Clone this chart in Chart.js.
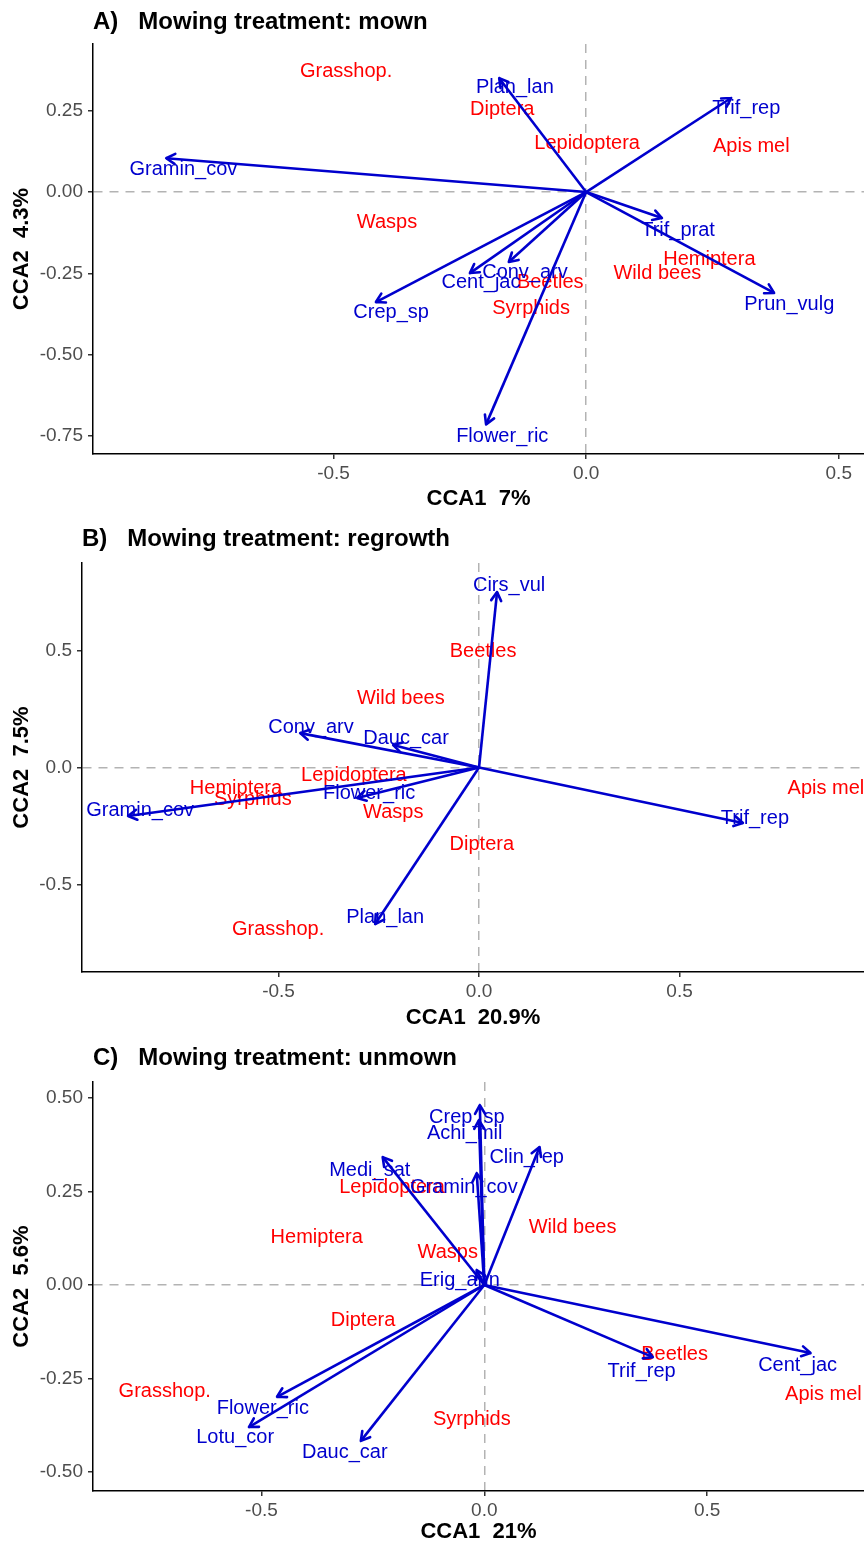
<!DOCTYPE html>
<html>
<head>
<meta charset="utf-8">
<title>CCA biplots by mowing treatment</title>
<script src="https://cdn.jsdelivr.net/npm/chart.js@4.4.1/dist/chart.umd.min.js"></script>
<style>
    html, body { margin: 0; padding: 0; background: #fff; overflow: hidden; width: 864px; height: 1544px; }
    .panel { position: absolute; left: 0; width: 864px; }
</style>
</head>
<body>
<div class="panel" id="panelA"><canvas id="chartA"></canvas></div>
<div class="panel" id="panelB"><canvas id="chartB"></canvas></div>
<div class="panel" id="panelC"><canvas id="chartC"></canvas></div>
<script>
// ── A) mown ─────────────────────────────────────────────
const envA      = ['Gramin_cov', 'Plan_lan', 'Trif_rep', 'Trif_prat', 'Prun_vulg', 'Flower_ric', 'Crep_sp', 'Cent_jac', 'Conv_arv'];
const envA_x    = [-0.831, -0.172, 0.287, 0.150, 0.372, -0.198, -0.416, -0.230, -0.153];
const envA_y    = [0.104, 0.350, 0.289, -0.080, -0.310, -0.714, -0.338, -0.249, -0.215];
const envA_lx   = [-0.797, -0.141, 0.317, 0.182, 0.402, -0.166, -0.386, -0.208, -0.121];
const envA_ly   = [0.068, 0.320, 0.258, -0.117, -0.347, -0.750, -0.369, -0.279, -0.246];
const sppA      = ['Grasshop.', 'Diptera', 'Lepidoptera', 'Apis mel', 'Wasps', 'Hemiptera', 'Wild bees', 'Beetles', 'Syrphids'];
const sppA_x    = [-0.475, -0.166, 0.002, 0.327, -0.394, 0.244, 0.141, -0.071, -0.109];
const sppA_y    = [0.369, 0.255, 0.148, 0.141, -0.092, -0.206, -0.249, -0.279, -0.357];
const xTicksA   = [-0.5, 0, 0.5];
const xLabelsA  = ['-0.5', '0.0', '0.5'];
const yTicksA   = [-0.75, -0.5, -0.25, 0, 0.25];
const yLabelsA  = ['-0.75', '-0.50', '-0.25', '0.00', '0.25'];
const xRangeA   = [-0.976, 0.550];
const yRangeA   = [-0.805, 0.455];

// ── B) regrowth ─────────────────────────────────────────
const envB      = ['Cirs_vul', 'Conv_arv', 'Dauc_car', 'Gramin_cov', 'Flower_ric', 'Plan_lan', 'Trif_rep'];
const envB_x    = [0.045, -0.446, -0.214, -0.875, -0.304, -0.259, 0.658];
const envB_y    = [0.750, 0.147, 0.096, -0.207, -0.130, -0.669, -0.237];
const envB_lx   = [0.075, -0.419, -0.182, -0.845, -0.274, -0.234, 0.688];
const envB_ly   = [0.780, 0.173, 0.126, -0.182, -0.113, -0.643, -0.216];
const sppB      = ['Beetles', 'Wild bees', 'Lepidoptera', 'Hemiptera', 'Syrphids', 'Wasps', 'Diptera', 'Grasshop.', 'Apis mel'];
const sppB_x    = [0.010, -0.195, -0.312, -0.606, -0.564, -0.214, 0.007, -0.501, 0.865];
const sppB_y    = [0.494, 0.297, -0.032, -0.088, -0.135, -0.194, -0.327, -0.694, -0.088];
const xTicksB   = [-0.5, 0, 0.5];
const xLabelsB  = ['-0.5', '0.0', '0.5'];
const yTicksB   = [-0.5, 0, 0.5];
const yLabelsB  = ['-0.5', '0.0', '0.5'];
const xRangeB   = [-0.990, 0.960];
const yRangeB   = [-0.874, 0.874];

// ── C) unmown ───────────────────────────────────────────
const envC      = ['Crep_sp', 'Achi_mil', 'Clin_rep', 'Gramin_cov', 'Medi_sat', 'Erig_ann', 'Cent_jac', 'Trif_rep', 'Flower_ric', 'Lotu_cor', 'Dauc_car'];
const envC_x    = [-0.010, -0.012, 0.124, -0.017, -0.228, -0.017, 0.732, 0.378, -0.465, -0.528, -0.277];
const envC_y    = [0.481, 0.441, 0.369, 0.299, 0.342, 0.040, -0.182, -0.193, -0.299, -0.380, -0.417];
const envC_lx   = [-0.039, -0.044, 0.095, -0.046, -0.257, -0.055, 0.703, 0.353, -0.497, -0.559, -0.313];
const envC_ly   = [0.447, 0.406, 0.340, 0.262, 0.307, 0.013, -0.214, -0.230, -0.329, -0.409, -0.449];
const sppC      = ['Lepidoptera', 'Hemiptera', 'Wasps', 'Wild bees', 'Diptera', 'Beetles', 'Grasshop.', 'Apis mel', 'Syrphids'];
const sppC_x    = [-0.207, -0.376, -0.082, 0.198, -0.272, 0.427, -0.717, 0.761, -0.028];
const sppC_y    = [0.262, 0.126, 0.086, 0.155, -0.094, -0.187, -0.286, -0.294, -0.361];
const xTicksC   = [-0.5, 0, 0.5];
const xLabelsC  = ['-0.5', '0.0', '0.5'];
const yTicksC   = [-0.5, -0.25, 0, 0.25, 0.5];
const yLabelsC  = ['-0.50', '-0.25', '0.00', '0.25', '0.50'];
const xRangeC   = [-0.878, 0.852];
const yRangeC   = [-0.551, 0.543];

const BLUE = '#0000CD';
const RED = '#FF0000';
const FONT = '"Liberation Sans", Arial, Helvetica, sans-serif';

Chart.defaults.font.family = FONT;
Chart.defaults.color = '#000';

// text labels go under the arrows
const textLabels = {
    id: 'textLabels',
    beforeDatasetsDraw(chart) {
        const ctx = chart.ctx;
        chart.data.datasets.forEach((ds, i) => {
            if (!ds.texts) return;
            const pts = chart.getDatasetMeta(i).data;
            ctx.save();
            ctx.font = '20px ' + FONT;
            ctx.fillStyle = ds.textColor;
            ctx.textAlign = 'center';
            ctx.textBaseline = 'middle';
            pts.forEach((p, j) => ctx.fillText(ds.texts[j], p.x, p.y));
            ctx.restore();
        });
    }
};

const arrowHeads = {
    id: 'arrowHeads',
    afterDatasetsDraw(chart) {
        const ctx = chart.ctx;
        const L = 10, A = Math.PI / 6;
        chart.data.datasets.forEach((ds, i) => {
            if (!ds.arrow) return;
            const [a, b] = chart.getDatasetMeta(i).data;
            const ang = Math.atan2(b.y - a.y, b.x - a.x);
            ctx.save();
            ctx.strokeStyle = ds.borderColor;
            ctx.lineWidth = ds.borderWidth;
            ctx.lineCap = 'round';
            ctx.beginPath();
            [-1, 1].forEach(s => {
                ctx.moveTo(b.x, b.y);
                ctx.lineTo(b.x - L * Math.cos(ang + s * A), b.y - L * Math.sin(ang + s * A));
            });
            ctx.stroke();
            ctx.restore();
        });
    }
};

function axis(ticks, labels, range, title, isX, frame) {
    return {
        type: 'linear',
        min: range[0],
        max: range[1],
        afterBuildTicks: s => { s.ticks = ticks.map(v => ({ value: v })); },
        afterFit: s => {
            if (isX) s.height = frame.top + frame.height - frame.plotBottom;
            else s.width = frame.plotLeft;
        },
        ticks: {
            autoSkip: false,
            maxRotation: 0,
            callback: (v, i) => labels[i],
            color: '#4d4d4d',
            font: { size: 19 },
            padding: isX ? 3 : 5
        },
        grid: {
            drawOnChartArea: true,
            drawTicks: true,
            color: c => (c.tick && c.tick.value === 0) ? '#b3b3b3' : 'rgba(0,0,0,0)',
            lineWidth: 1.5,
            tickColor: '#333',
            tickLength: 5,
            tickWidth: 1.5
        },
        border: { display: true, color: '#000', width: 1.5, dash: [9, 7] },
        title: {
            display: true,
            text: title,
            color: '#000',
            font: { size: 22, weight: 'bold' },
            padding: isX
                ? { top: 0, bottom: frame.top + frame.height - frame.xTitleY - 13.2 }
                : { top: 22 - 13.2, bottom: 0 }
        }
    };
}

function makePanel(id, frame, p) {
    const host = document.getElementById(id).parentNode;
    host.style.top = frame.top + 'px';
    host.style.height = frame.height + 'px';

    const arrows = p.env.map((name, i) => ({
        label: name,
        arrow: true,
        showLine: true,
        data: [{ x: 0, y: 0 }, { x: p.ex[i], y: p.ey[i] }],
        borderColor: BLUE,
        borderWidth: 2.6,
        pointRadius: 0
    }));
    const envText = {
        label: 'env labels',
        texts: p.env,
        textColor: BLUE,
        data: p.env.map((_, i) => ({ x: p.elx[i], y: p.ely[i] })),
        pointRadius: 0
    };
    const sppText = {
        label: 'taxa',
        texts: p.spp,
        textColor: RED,
        data: p.spp.map((_, i) => ({ x: p.sx[i], y: p.sy[i] })),
        pointRadius: 0
    };

    return new Chart(document.getElementById(id), {
        type: 'scatter',
        data: { datasets: [...arrows, sppText, envText] },
        options: {
            responsive: true,
            maintainAspectRatio: false,
            animation: false,
            events: [],
            layout: { padding: 0 },
            scales: {
                x: axis(p.xt, p.xl, p.xr, p.xTitle, true, frame),
                y: axis(p.yt, p.yl, p.yr, p.yTitle, false, frame)
            },
            plugins: {
                legend: { display: false },
                tooltip: { enabled: false },
                title: {
                    display: true,
                    text: p.title,
                    align: 'start',
                    fullSize: false,
                    color: '#000',
                    font: { size: 24, weight: 'bold' },
                    padding: {
                        top: frame.titleY - frame.top - 14.4,
                        bottom: frame.plotTop - frame.titleY - 14.4
                    }
                }
            }
        },
        plugins: [textLabels, arrowHeads]
    });
}

makePanel('chartA',
    { top: 0, height: 518, titleY: 22, plotTop: 44, plotLeft: 93, plotBottom: 454, xTitleY: 499 },
    { title: 'A)   Mowing treatment: mown', xTitle: 'CCA1  7%', yTitle: 'CCA2  4.3%',
      env: envA, ex: envA_x, ey: envA_y, elx: envA_lx, ely: envA_ly,
      spp: sppA, sx: sppA_x, sy: sppA_y,
      xt: xTicksA, xl: xLabelsA, yt: yTicksA, yl: yLabelsA, xr: xRangeA, yr: yRangeA });

makePanel('chartB',
    { top: 518, height: 519, titleY: 539, plotTop: 563, plotLeft: 82, plotBottom: 972, xTitleY: 1018 },
    { title: 'B)   Mowing treatment: regrowth', xTitle: 'CCA1  20.9%', yTitle: 'CCA2  7.5%',
      env: envB, ex: envB_x, ey: envB_y, elx: envB_lx, ely: envB_ly,
      spp: sppB, sx: sppB_x, sy: sppB_y,
      xt: xTicksB, xl: xLabelsB, yt: yTicksB, yl: yLabelsB, xr: xRangeB, yr: yRangeB });

makePanel('chartC',
    { top: 1037, height: 514, titleY: 1058, plotTop: 1082, plotLeft: 93, plotBottom: 1491, xTitleY: 1532 },
    { title: 'C)   Mowing treatment: unmown', xTitle: 'CCA1  21%', yTitle: 'CCA2  5.6%',
      env: envC, ex: envC_x, ey: envC_y, elx: envC_lx, ely: envC_ly,
      spp: sppC, sx: sppC_x, sy: sppC_y,
      xt: xTicksC, xl: xLabelsC, yt: yTicksC, yl: yLabelsC, xr: xRangeC, yr: yRangeC });
</script>
</body>
</html>
